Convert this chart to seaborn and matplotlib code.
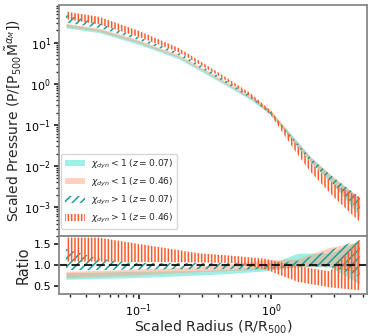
import matplotlib
matplotlib.use("Agg")
import matplotlib.pyplot as plt
import seaborn as sns

# ---- values ----
# radii for the pressure profiles (R/R500)
r_prof = [0.028, 0.05, 0.1, 0.2, 0.4, 0.7, 1.0, 1.5, 2.0, 3.0, 4.7]

# chi_dyn < 1, z = 0.07
relax_lo_z007 = [23.1, 17.7, 9.1, 4.07, 1.17, 0.415, 0.176, 0.0384, 0.0125, 0.0034, 0.0006]
relax_hi_z007 = [28.7, 21.6, 11.05, 4.73, 1.34, 0.47, 0.206, 0.05, 0.0166, 0.005, 0.0017]
# chi_dyn < 1, z = 0.46
relax_lo_z046 = [24.5, 19.0, 9.9, 4.46, 1.28, 0.44, 0.182, 0.038, 0.0125, 0.0036, 0.00088]
relax_hi_z046 = [29.8, 22.6, 11.7, 5.2, 1.5, 0.535, 0.226, 0.046, 0.0164, 0.0054, 0.0017]
# chi_dyn > 1, z = 0.07
dist_lo_z007 = [30.8, 22.9, 11.6, 4.95, 1.35, 0.45, 0.182, 0.038, 0.0125, 0.0035, 0.00079]
dist_hi_z007 = [48.3, 29.9, 13.7, 5.8, 1.58, 0.52, 0.206, 0.0436, 0.0156, 0.0052, 0.00176]
# chi_dyn > 1, z = 0.46
dist_lo_z046 = [37.8, 28.1, 13.9, 5.9, 1.59, 0.5, 0.172, 0.0252, 0.00715, 0.00175, 0.00044]
dist_hi_z046 = [57.8, 42.9, 19.5, 7.5, 1.89, 0.595, 0.224, 0.0396, 0.0121, 0.0036, 0.00176]

# ratio panel
r_ratio = [0.028, 0.05, 0.09, 0.16, 0.28, 0.5, 0.9, 1.6, 2.8, 4.7]
ratio_relax_lo_z007 = [0.66, 0.68, 0.70, 0.73, 0.76, 0.80, 0.86, 0.97, 0.95, 0.55]
ratio_relax_hi_z007 = [0.82, 0.83, 0.85, 0.86, 0.87, 0.90, 0.98, 1.28, 1.28, 1.58]
ratio_relax_lo_z046 = [0.70, 0.73, 0.76, 0.80, 0.84, 0.87, 0.90, 0.95, 0.97, 0.80]
ratio_relax_hi_z046 = [0.85, 0.87, 0.90, 0.93, 0.97, 1.03, 1.12, 1.15, 1.42, 1.55]
ratio_dist_lo_z007 = [0.88, 0.88, 0.89, 0.90, 0.90, 0.90, 0.90, 0.96, 0.96, 0.72]
ratio_dist_hi_z007 = [1.38, 1.15, 1.05, 1.05, 1.05, 1.05, 1.02, 1.10, 1.35, 1.60]
ratio_dist_lo_z046 = [1.08, 1.08, 1.07, 1.07, 1.06, 1.05, 0.90, 0.60, 0.47, 0.40]
ratio_dist_hi_z046 = [1.65, 1.65, 1.52, 1.40, 1.28, 1.22, 1.15, 0.97, 0.85, 1.60]

labels = [r"$\chi_{dyn} < 1$ ($z = 0.07$)",
          r"$\chi_{dyn} < 1$ ($z = 0.46$)",
          r"$\chi_{dyn} > 1$ ($z = 0.07$)",
          r"$\chi_{dyn} > 1$ ($z = 0.46$)"]

# ---- styling ----
sns.set_theme(style="ticks")
plt.rcParams.update({
    "font.family": ["DejaVu Sans"],
    "axes.edgecolor": "#888888",
    "axes.linewidth": 1.3,
    "xtick.color": "#222222",
    "ytick.color": "#222222",
    "xtick.labelcolor": "black",
    "ytick.labelcolor": "black",
    "xtick.major.size": 3.5,
    "ytick.major.size": 3.5,
    "xtick.minor.size": 2,
    "ytick.minor.size": 2,
    "xtick.major.pad": 2.5,
    "ytick.major.pad": 2.5,
    "xtick.labelsize": 8,
    "ytick.labelsize": 8,
    "hatch.linewidth": 1.1,
    "mathtext.fontset": "dejavusans",
})

cyan = "#40e0d0"
peach = "#ff9a70"
teal_hatch = "#1e9c98"
orange_hatch = "#ff5a28"

fig = plt.figure(figsize=(3.74, 3.36), dpi=100)
ax = fig.add_axes([0.159, 0.298, 0.823, 0.687])
axr = fig.add_axes([0.159, 0.126, 0.823, 0.172], sharex=ax)


def draw_bands(a, x, bands):
    (l1, h1), (l2, h2), (l3, h3), (l4, h4) = bands
    a.fill_between(x, l1, h1, color=cyan, alpha=0.5, linewidth=0, label=labels[0])
    a.fill_between(x, l2, h2, color=peach, alpha=0.45, linewidth=0, label=labels[1])
    a.fill_between(x, l3, h3, facecolor="none", edgecolor=teal_hatch, hatch="////",
                   linewidth=0, label=labels[2])
    a.fill_between(x, l4, h4, facecolor="none", edgecolor=orange_hatch, hatch="|||||",
                   linewidth=0, label=labels[3])


draw_bands(ax, r_prof, [(relax_lo_z007, relax_hi_z007), (relax_lo_z046, relax_hi_z046),
                        (dist_lo_z007, dist_hi_z007), (dist_lo_z046, dist_hi_z046)])
draw_bands(axr, r_ratio, [(ratio_relax_lo_z007, ratio_relax_hi_z007),
                          (ratio_relax_lo_z046, ratio_relax_hi_z046),
                          (ratio_dist_lo_z007, ratio_dist_hi_z007),
                          (ratio_dist_lo_z046, ratio_dist_hi_z046)])
axr.axhline(1.0, color="black", linestyle=(0, (4, 2)), linewidth=1.5, alpha=0.85)

ax.set_xscale("log")
ax.set_yscale("log")
ax.set_xlim(0.025, 5.37)
ax.set_ylim(2.0e-4, 83)
axr.set_ylim(0.32, 1.69)
axr.set_yticks([0.5, 1.0, 1.5])
ax.tick_params(labelbottom=False)

ax.set_ylabel(r"Scaled Pressure (P/[P$_{500}\tilde{\mathrm{M}}^{\alpha_M}$])",
              fontsize=10, labelpad=1)
axr.set_ylabel("Ratio", fontsize=10.5, labelpad=2)
axr.set_xlabel(r"Scaled Radius (R/R$_{500}$)", fontsize=10.2, labelpad=0)

ax.legend(loc="lower left", bbox_to_anchor=(0.005, 0.03), borderaxespad=0,
          fontsize=6.6, frameon=True, framealpha=0.8, labelspacing=0.55,
          handlelength=2.2, handletextpad=0.7)

fig.savefig("out.png", dpi=100)
